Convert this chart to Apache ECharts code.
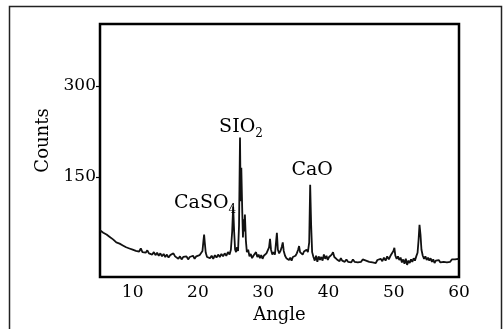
<!DOCTYPE html>
<html>
<head>
<meta charset="utf-8">
<script src="https://cdn.jsdelivr.net/npm/echarts@6/dist/echarts.min.js"></script>
<style>html,body{margin:0;padding:0;background:#fff}#c{width:504px;height:329px}</style>
</head>
<body>
<div id="c"></div>
<script>
// [angle, counts]
var pattern = [
[5.0,62],[5.25,64],[5.5,58],[5.75,61],[6.0,55],[6.25,57],[6.5,51],[6.75,53],[7.0,47],[7.25,49],
[7.5,42],[7.75,45],[8.0,40],[8.25,43],[8.5,37],[8.75,39],[9.0,34],[9.25,37],[9.5,32],[9.75,35],
[10.0,30],[10.25,33],[10.5,28],[10.75,31],[11.0,27],[11.25,32],[11.5,26],[11.75,29],[12.0,25],[12.25,29],
[12.5,24],[12.75,27],[13.0,22],[13.25,26],[13.5,21],[13.75,25],[14.0,20],[14.25,24],[14.5,19],[14.75,23],
[15.0,18],[15.25,22],[15.5,17],[15.75,21],[16.0,18],[16.25,24],[16.5,19],[16.75,22],[17.0,15],[17.25,19],
[17.5,14],[17.75,18],[18.0,15],[18.25,19],[18.5,14],[18.75,18],[19.0,16],[19.25,20],[19.5,15],[19.75,19],
[20.0,17],[20.25,21],[20.5,18],[20.7,28],[20.85,45],[20.95,55],[21.05,42],[21.2,25],[21.4,18],
[21.6,21],[21.85,16],[22.1,20],[22.35,15],[22.6,21],[22.85,17],[23.1,22],[23.35,18],[23.6,23],[23.85,19],
[24.1,24],[24.35,20],[24.6,26],[24.85,22],[25.05,30],[25.25,60],[25.4,101],[25.55,60],[25.7,30],[25.85,26],
[26.0,34],[26.15,28],[26.3,70],[26.45,215],[26.55,110],[26.65,165],[26.8,90],[26.9,50],[27.0,80],[27.1,60],
[27.2,88],[27.35,45],[27.5,26],[27.7,30],[27.9,19],[28.1,23],[28.3,16],[28.5,20],[28.7,17],[28.9,26],
[29.1,18],[29.3,22],[29.5,16],[29.7,21],[29.9,15],[30.1,20],[30.3,17],[30.5,24],[30.7,21],[30.9,34],
[31.05,48],[31.2,30],[31.4,22],[31.6,26],[31.8,22],[31.95,40],[32.1,58],[32.25,30],[32.45,24],[32.65,28],
[32.85,35],[33.0,42],[33.15,28],[33.35,20],[33.55,16],[33.75,19],[33.95,13],[34.15,17],[34.35,12],[34.55,18],
[34.75,15],[34.95,20],[35.15,24],[35.35,30],[35.5,36],[35.65,26],[35.85,29],[36.05,22],[36.25,27],[36.45,24],
[36.65,30],[36.85,26],[37.05,42],[37.2,137],[37.35,70],[37.5,26],[37.7,18],[37.9,12],[38.1,20],[38.3,10],
[38.5,19],[38.7,13],[38.9,18],[39.1,12],[39.3,22],[39.5,15],[39.7,20],[39.9,13],[40.1,18],[40.3,15],
[40.5,22],[40.7,26],[40.9,18],[41.1,21],[41.3,14],[41.5,17],[41.7,11],[41.9,16],[42.1,12],[42.3,15],
[42.5,10],[42.75,14],[43.0,10],[43.25,13],[43.5,9],[43.75,14],[44.0,10],[44.25,13],[44.5,9],[44.75,12],
[45.0,10],[45.25,14],[45.5,17],[45.75,12],[46.0,15],[46.25,10],[46.5,13],[46.75,9],[47.0,12],[47.25,8],
[47.5,13],[47.75,10],[48.0,15],[48.25,11],[48.5,17],[48.75,12],[49.0,19],[49.25,14],[49.5,20],[49.75,18],
[49.95,28],[50.1,33],[50.25,20],[50.45,15],[50.65,19],[50.85,13],[51.05,17],[51.25,9],[51.45,14],[51.65,7],
[51.85,15],[52.05,5],[52.25,12],[52.45,8],[52.65,14],[52.85,10],[53.05,16],[53.25,12],[53.45,19],[53.65,25],
[53.8,45],[53.95,71],[54.1,55],[54.25,30],[54.45,20],[54.65,15],[54.85,19],[55.05,13],[55.25,17],[55.45,12],
[55.65,16],[55.85,10],[56.05,14],[56.25,8],[56.45,12],[56.65,9],[56.9,13],[57.15,9],[57.4,12],[57.65,10],
[57.9,13],[58.15,9],[58.4,12],[58.65,10],[58.9,14],[59.15,11],[59.4,14],[59.65,12],[59.85,15],[60.0,13]
];
var xTicks = [10,20,30,40,50,60];
var yTicks = [150,300];
var peakNames = ['CaSO4','SIO2','CaO'];
var peakTexts = ['CaSO{sub|4}','SIO{sub|2}','CaO'];
var peakAngles = [21.1,26.6,37.5];
var peakCounts = [107,232,162];

var FONT = 'DejaVu Serif';
var chart = echarts.init(document.getElementById('c'), null, {renderer:'canvas'});
chart.setOption({
  animation:false,
  backgroundColor:'#fff',
  graphic:[{type:'rect', shape:{x:9.5,y:6.5,width:492,height:340}, style:{fill:'none', stroke:'#222', lineWidth:1.5}, silent:true, z:-1}],
  grid:{left:100,right:45,top:24,bottom:52,show:true,borderColor:'#000',borderWidth:2.5,backgroundColor:'transparent'},
  xAxis:{
    type:'value', min:5, max:60,
    name:'Angle', nameLocation:'middle', nameGap:26,
    nameTextStyle:{fontFamily:FONT,fontSize:18,color:'#000'},
    axisLine:{show:false},
    axisTick:{show:false},
    axisLabel:{customValues:xTicks, fontFamily:FONT, fontSize:17, color:'#000', margin:7},
    splitLine:{show:false}
  },
  yAxis:{
    type:'value', min:-15, max:402,
    name:'Counts', nameLocation:'middle', nameGap:48, nameRotate:90,
    nameTextStyle:{fontFamily:FONT,fontSize:18,color:'#000',padding:[0,0,0,20]},
    axisLine:{show:false},
    axisTick:{show:true, customValues:yTicks, length:4, lineStyle:{color:'#000',width:1.2}},
    axisLabel:{customValues:yTicks, fontFamily:FONT, fontSize:17, color:'#000', margin:4},
    splitLine:{show:false}
  },
  series:[{
    type:'line', data:pattern, showSymbol:false, symbol:'none',
    lineStyle:{color:'#111', width:1.8}, z:3,
    markPoint:{
      symbol:'circle', symbolSize:0,
      label:{show:true, position:'inside', fontFamily:FONT, fontSize:19, color:'#000',
        formatter:function(p){return p.data.text;},
        rich:{sub:{fontFamily:FONT,fontSize:12,color:'#000',verticalAlign:'bottom',lineHeight:26}}
      },
      data:peakNames.map(function(n,i){return {name:n, coord:[peakAngles[i],peakCounts[i]], text:peakTexts[i]};})
    }
  }]
});
</script>
</body>
</html>
